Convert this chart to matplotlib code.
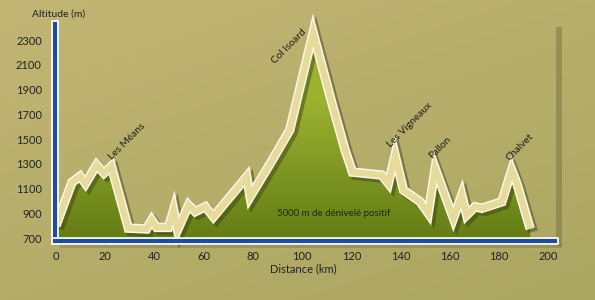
import matplotlib
matplotlib.use("Agg")
import matplotlib.pyplot as plt
import matplotlib.patheffects as pe
import numpy as np

# ---- data ----
distance_km = [0, 6.5, 9.8, 12, 16.5, 19.5, 22.5, 29.4, 36.8, 38.9, 40.9, 45.7, 47.8,
               49.4, 53.9, 56.6, 60.7, 64, 77.5, 78.9, 87, 95, 104.5, 111.8, 117.5,
               120.5, 132.4, 135.1, 137.8, 141.2, 148, 151.3, 154.1, 161.5, 164.9,
               166.9, 170.3, 173, 181.2, 185.2, 187.3, 192.7]
altitude_m = [800, 1150, 1200, 1140, 1290, 1225, 1280, 780, 773, 845, 786, 786, 926,
              765, 967, 913, 953, 872, 1195, 1034, 1300, 1573, 2360, 1815, 1411,
              1233, 1209, 1142, 1370, 1088, 993, 900, 1263, 859, 1047,
              886, 953, 940, 993, 1250, 1142, 775]
x_ticks = [0, 20, 40, 60, 80, 100, 120, 140, 160, 180, 200]
y_ticks = [700, 900, 1100, 1300, 1500, 1700, 1900, 2100, 2300]
place_names = ["Les Méans", "Col Isoard", "Les Vigneaux", "Pallon", "Chalvet"]
place_pos = [(28.9, 1484), (94.7, 2251), (143.9, 1613), (156.1, 1427), (188.6, 1435)]
note_text = "5000 m de dénivelé positif"

FONT = ["Lato", "DejaVu Sans"]
plt.rcParams['font.family'] = FONT

BG = "#b2a967"
BLUE = "#1f4c9e"
fig = plt.figure(figsize=(5.95, 3.0), dpi=100)
fig.patch.set_facecolor(BG)

# background tone
bgax = fig.add_axes([0, 0, 1, 1], zorder=-10)
grad = np.linspace(0, 1, 200)
X, Y = np.meshgrid(grad, grad)
c1 = np.array([0xc2, 0xb5, 0x74]) / 255
c2 = np.array([0xab, 0xa6, 0x62]) / 255
t = np.clip((X * 0.4 + Y * 0.6), 0, 1)[..., None]
bgimg = c1 * (1 - t) + c2 * t
bgax.imshow(bgimg, extent=[0, 1, 0, 1], origin='upper', aspect='auto')
bgax.axis('off')
# panel shadows
bgax.fill_between([556/595, 562/595], [1-246/300]*2, [1-27/300]*2, color="#5b5a28", alpha=0.35, lw=0)
bgax.fill_between([60/595, 562/595], [1-248/300]*2, [1-244/300]*2, color="#5a5626", alpha=0.25, lw=0)
bgax.set_xlim(0, 1); bgax.set_ylim(0, 1)

ax = fig.add_axes([55/595, 1-241/300, 500/595, 217/300])
ax.set_facecolor('none')
ymin, ymax = 676, 2430
ax.set_xlim(-0.4, 202.8)
ax.set_ylim(ymin, ymax)

d = np.array(distance_km); a = np.array(altitude_m)
# green gradient fill clipped to profile
poly_x = np.concatenate([[d[0]], d, [d[-1]]])
poly_y = np.concatenate([[ymin], a, [ymin]])
fill = ax.fill(poly_x, poly_y, color='none', lw=0)[0]
gy = np.linspace(0, 1, 256)
tt = np.clip((gy - 0.35) / 0.65, 0, 1)[:, None, None]
top = np.array([0x9c, 0xb2, 0x30]) / 255
bot = np.array([0x62, 0x7c, 0x14]) / 255
img = top * (1 - tt) + bot * tt
img = np.repeat(img, 2, axis=1)
im = ax.imshow(img, extent=[d[0], d[-1], ymin, ymax], origin='upper', aspect='auto', zorder=1)
im.set_clip_path(fill)

# profile line with shadow and white border
ax.plot(d, a, color='#e6da9c', lw=4.6, solid_joinstyle='miter', solid_capstyle='butt',
        zorder=3, clip_on=False,
        path_effects=[pe.SimpleLineShadow(offset=(2.2, -2.2), shadow_color='#3a3a12', alpha=0.45, linewidth=7),
                      pe.Stroke(linewidth=6.8, foreground='#fbf8e6'), pe.Normal()])

# spines
for s in ['top', 'right']:
    ax.spines[s].set_visible(False)
for s in ['left', 'bottom']:
    ax.spines[s].set_color(BLUE)
    ax.spines[s].set_linewidth(3)
    ax.spines[s].set_path_effects([pe.Stroke(linewidth=5.5, foreground='white'), pe.Normal()])
    ax.spines[s].set_zorder(5)

ax.set_xticks(x_ticks)
ax.set_yticks(y_ticks)
ax.tick_params(axis='both', direction='out', length=2.5, width=2.5, color=BLUE,
               labelsize=8, labelcolor='#222222')
ax.tick_params(axis='y', pad=7)
ax.tick_params(axis='x', pad=5)
for tk in ax.xaxis.get_major_ticks() + ax.yaxis.get_major_ticks():
    tk.tick1line.set_path_effects([pe.Stroke(linewidth=4.5, foreground='white'), pe.Normal()])

fig.text(303/595, 1-269/300, "Distance (km)", ha='center', va='center', fontsize=8, color='#222222')
fig.text(59/595, 1-14/300, "Altitude (m)", ha='center', va='center', fontsize=7.5, color='#222222')

for name, (px, py) in zip(place_names, place_pos):
    ax.text(px, py, name, rotation=45, ha='center', va='center', fontsize=7.3,
            color='#1c1c1c', rotation_mode='anchor', zorder=6)
ax.text(113, 902, note_text, ha='center', va='center', fontsize=7, color='#1c2a08', zorder=6)

fig.savefig("out.png", dpi=100, facecolor=fig.get_facecolor())
